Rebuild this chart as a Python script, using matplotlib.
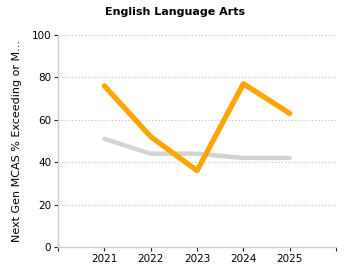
import matplotlib
matplotlib.use("Agg")
import matplotlib.pyplot as plt

# Data
years = [2021, 2022, 2023, 2024, 2025]
school = [76, 52, 36, 77, 63]
state = [51, 44, 44, 42, 42]
yticks = [0, 20, 40, 60, 80, 100]

plt.rcParams['font.family'] = ['DejaVu Sans']

fig = plt.figure(figsize=(3.5, 2.8), dpi=100)
ax = fig.add_axes([0.166, 0.118, 0.794, 0.757])

ax.plot(years, state, color="#d3d3d3", linewidth=3.2, solid_capstyle="round", zorder=2)
ax.plot(years, school, color="#ffa500", linewidth=3.8, solid_capstyle="round", zorder=3)

ax.set_xlim(2020, 2026)
ax.set_ylim(0, 100)
ax.set_xticks(range(2020, 2027))
ax.set_xticklabels([""] + [str(y) for y in years] + [""], fontsize=7.5)
ax.set_yticks(yticks)
ax.set_yticklabels([str(v) for v in yticks], fontsize=7.5)
ax.tick_params(length=3, width=0.8, color="#222222", pad=2)

ax.grid(axis="y", linestyle=(0, (1, 2)), color="#bbbbbb", linewidth=0.8)
ax.set_axisbelow(True)
for side in ["top", "right"]:
    ax.spines[side].set_visible(False)
for side in ["left", "bottom"]:
    ax.spines[side].set_color("#cccccc")
    ax.spines[side].set_linewidth(1)

ax.set_ylabel("Next Gen MCAS % Exceeding or M...", fontsize=8, labelpad=7)
fig.suptitle("English Language Arts", fontsize=8, fontweight="bold", y=0.975)

fig.savefig("out.png", dpi=100)
